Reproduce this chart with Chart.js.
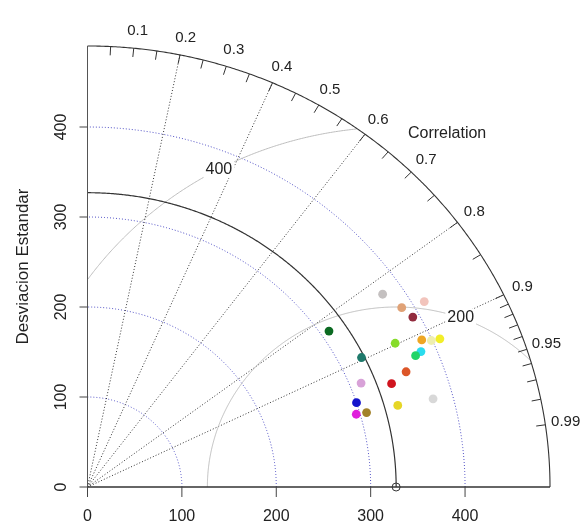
<!DOCTYPE html>
<html>
<head>
<meta charset="utf-8">
<script src="https://cdn.jsdelivr.net/npm/chart.js@4.4.0/dist/chart.umd.min.js"></script>
<style>
  html, body { margin: 0; background: #fff; }
  #wrap { width: 586px; height: 524px; position: relative; }
</style>
</head>
<body>
<div id="wrap"><canvas id="taylor"></canvas></div>
<script>
// Taylor diagram: standard deviation (radius) and correlation (angle)
const sdMax = 490;
const refSd = 327;
const sdGrid = [100, 200, 300, 400];
const sdTicks = [0, 100, 200, 300, 400];
const corLines = [0.2, 0.4, 0.6, 0.8, 0.9];
const corLabels = [0.1, 0.2, 0.3, 0.4, 0.5, 0.6, 0.7, 0.8, 0.9, 0.95, 0.99];
const corTickMarks = [0.05, 0.1, 0.15, 0.2, 0.25, 0.3, 0.35, 0.4, 0.45, 0.5, 0.55, 0.6,
                      0.65, 0.7, 0.75, 0.8, 0.85, 0.9, 0.91, 0.92, 0.93, 0.94, 0.95,
                      0.96, 0.97, 0.98, 0.99];
const rmsArcs = [200, 400];

// modelos
const modelSd  = [379, 412, 388, 393, 309, 363, 390, 399, 408, 384,
                  377, 324, 361, 342, 312, 379, 300, 341, 296, 307];
const modelCor = [0.825, 0.866, 0.858, 0.877, 0.828, 0.898, 0.908, 0.913, 0.915, 0.920,
                  0.922, 0.896, 0.935, 0.942, 0.929, 0.966, 0.950, 0.964, 0.962, 0.963];
const modelColors = ['#c4c0c0', '#f2c4bc', '#e0a276', '#922b3e', '#0b6a22', '#86dc2a', '#eea624', '#eeeeb0', '#f2ee2a', '#2adcee',
                     '#22d468', '#1f7a6c', '#dc5628', '#d0141e', '#d8a2d8', '#d8d8d8', '#1414cc', '#e6d626', '#e020dc', '#a2822a'];

const FONT = '16px "Liberation Sans", Arial, sans-serif';
const FONT_COR = '15px "Liberation Sans", Arial, sans-serif';
const FONT_TITLE = '17px "Liberation Sans", Arial, sans-serif';

const taylorPlugin = {
    id: 'taylorGrid',
    beforeDatasetsDraw(chart) {
        const ctx = chart.ctx;
        const xs = chart.scales.x, ys = chart.scales.y;
        const X = v => xs.getPixelForValue(v);
        const Y = v => ys.getPixelForValue(v);

        // circle centred on (cx, 0), clipped to the quadrant inside sdMax
        function arc(cx, r, color, dash, width) {
            ctx.save();
            ctx.strokeStyle = color;
            ctx.lineWidth = width;
            ctx.setLineDash(dash);
            ctx.beginPath();
            let started = false;
            for (let i = 0; i <= 720; i++) {
                const t = Math.PI * i / 720;
                const x = cx + r * Math.cos(t), y = r * Math.sin(t);
                if (x < 0 || y < 0 || x * x + y * y > sdMax * sdMax + 1) { started = false; continue; }
                if (!started) { ctx.moveTo(X(x), Y(y)); started = true; }
                else ctx.lineTo(X(x), Y(y));
            }
            ctx.stroke();
            ctx.restore();
        }

        // desviacion estandar (blue dotted)
        sdGrid.forEach(r => arc(0, r, '#4d4dc4', [1, 2], 1));

        // correlation lines
        ctx.save();
        ctx.strokeStyle = '#333';
        ctx.lineWidth = 1;
        ctx.setLineDash([1, 2]);
        corLines.forEach(c => {
            const s = Math.sqrt(1 - c * c);
            ctx.beginPath();
            ctx.moveTo(X(0), Y(0));
            ctx.lineTo(X(sdMax * c), Y(sdMax * s));
            ctx.stroke();
        });
        ctx.restore();

        // RMS arcs round the reference
        rmsArcs.forEach(r => arc(refSd, r, '#bdbdbd', [], 1));

        // reference sd arc
        arc(0, refSd, '#333', [], 1.2);

        // outer arc
        arc(0, sdMax, '#333', [], 1.1);

        // axes
        ctx.save();
        ctx.strokeStyle = '#555';
        ctx.lineWidth = 1;
        ctx.beginPath();
        ctx.moveTo(X(0), Y(0));
        ctx.lineTo(X(0), Y(sdMax));
        ctx.stroke();
        ctx.strokeStyle = '#333';
        ctx.lineWidth = 1.6;
        ctx.beginPath();
        ctx.moveTo(X(0), Y(0));
        ctx.lineTo(X(sdMax), Y(0));
        ctx.stroke();

        ctx.lineWidth = 1;
        ctx.strokeStyle = '#444';
        ctx.fillStyle = '#222';
        ctx.font = FONT;
        ctx.textAlign = 'center';
        ctx.textBaseline = 'middle';
        sdTicks.forEach(v => {
            // x axis
            ctx.beginPath();
            ctx.moveTo(X(v), Y(0));
            ctx.lineTo(X(v), Y(0) + 10);
            ctx.stroke();
            ctx.fillText(String(v), X(v), Y(0) + 30);
            // y axis
            ctx.beginPath();
            ctx.moveTo(X(0), Y(v));
            ctx.lineTo(X(0) - 8, Y(v));
            ctx.stroke();
            ctx.save();
            ctx.translate(X(0) - 26, Y(v));
            ctx.rotate(-Math.PI / 2);
            ctx.fillText(String(v), 0, 0);
            ctx.restore();
        });

        // y title
        ctx.save();
        ctx.font = FONT_TITLE;
        ctx.translate(X(0) - 64, Y(sdMax / 2));
        ctx.rotate(-Math.PI / 2);
        ctx.fillText('Desviacion Estandar', 0, 0);
        ctx.restore();

        // correlation ticks and labels
        ctx.strokeStyle = '#333';
        corTickMarks.forEach(c => {
            const s = Math.sqrt(1 - c * c);
            ctx.beginPath();
            ctx.moveTo(X(sdMax * c), Y(sdMax * s));
            ctx.lineTo(X(sdMax * 0.98 * c), Y(sdMax * 0.98 * s));
            ctx.stroke();
        });
        ctx.font = FONT_COR;
        corLabels.forEach(c => {
            const s = Math.sqrt(1 - c * c);
            const r = sdMax * 1.04;
            ctx.fillText(String(c), X(r * c) + 2, Y(r * s));
        });
        ctx.font = FONT;
        ctx.fillText('Correlation', X(381), Y(393));

        // RMS labels
        [[200, 70], [400, 118]].forEach(([r, deg]) => {
            const a = deg * Math.PI / 180;
            const px = X(refSd + r * Math.cos(a)), py = Y(r * Math.sin(a));
            const w = ctx.measureText(String(r)).width + 4;
            ctx.fillStyle = '#fff';
            ctx.fillRect(px - w / 2, py - 9, w, 18);
            ctx.fillStyle = '#222';
            ctx.fillText(String(r), px, py);
        });

        // reference point
        ctx.beginPath();
        ctx.arc(X(refSd), Y(0), 4, 0, Math.PI * 2);
        ctx.lineWidth = 1;
        ctx.strokeStyle = '#333';
        ctx.stroke();
        ctx.restore();
    }
};

const puntos = modelSd.map((s, i) => ({
    x: s * modelCor[i],
    y: s * Math.sqrt(1 - modelCor[i] * modelCor[i])
}));

new Chart(document.getElementById('taylor'), {
    type: 'scatter',
    data: {
        datasets: [{
            data: puntos,
            pointBackgroundColor: modelColors,
            pointBorderWidth: 0,
            pointRadius: 4.4
        }]
    },
    options: {
        responsive: true,
        maintainAspectRatio: false,
        animation: false,
        layout: { padding: { left: 87.5, right: 36, top: 46, bottom: 37 } },
        scales: {
            x: { type: 'linear', min: 0, max: sdMax, display: false },
            y: { type: 'linear', min: 0, max: sdMax, display: false }
        },
        plugins: {
            legend: { display: false },
            tooltip: { enabled: false }
        }
    },
    plugins: [taylorPlugin]
});
</script>
</body>
</html>
